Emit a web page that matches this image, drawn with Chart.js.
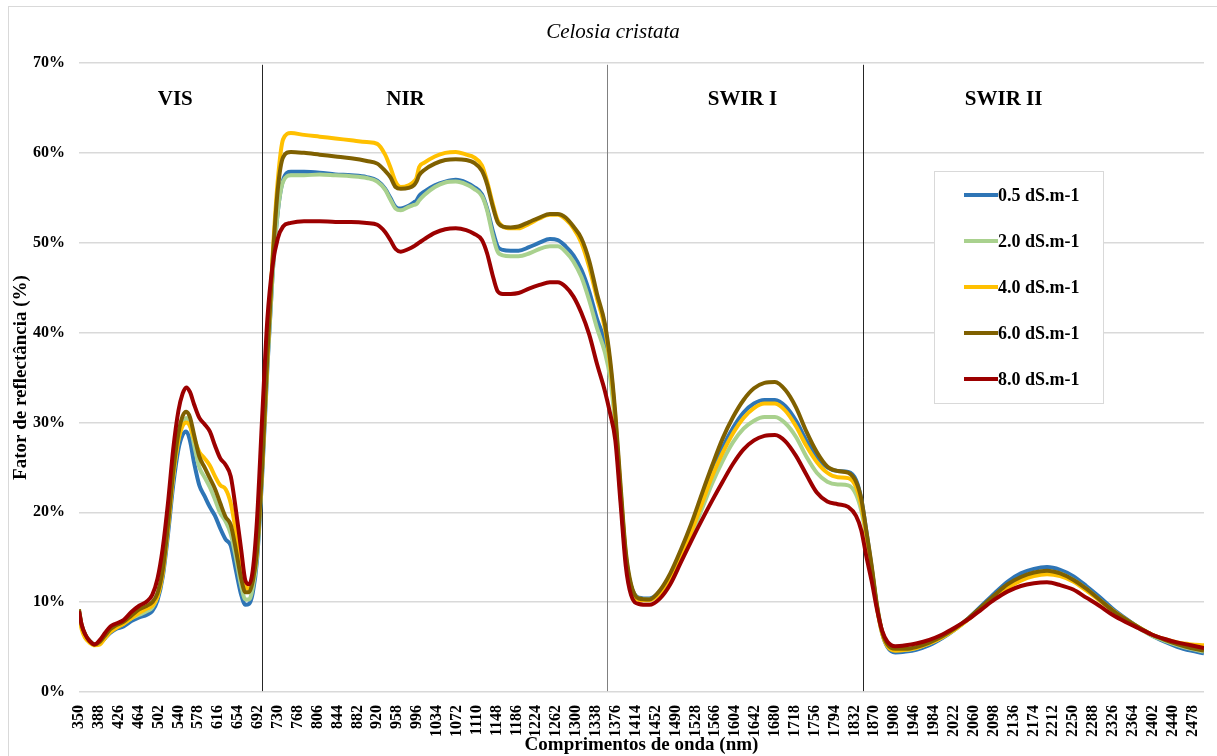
<!DOCTYPE html>
<html>
<head>
<meta charset="utf-8">
<script src="https://cdn.jsdelivr.net/npm/chart.js@4.4.1/dist/chart.umd.min.js"></script>
<style>
  body { margin: 0; background: #fff; }
  #wrap { width: 1217px; height: 756px; }
</style>
</head>
<body>
<div id="wrap"><canvas id="graficoReflectancia" width="1217" height="756"></canvas></div>
<script>
// --- DADOS ---
// comprimentos de onda amostrados (nm)
const wavelengths = [
  350, 355, 362, 370, 380, 390, 400, 410, 420, 435, 450, 465, 480, 490, 500, 510, 520, 530, 540, 548,
  555, 562, 570, 580, 590, 600, 610, 620, 630, 640, 650, 660, 668, 675, 682, 690, 700, 710, 720, 730,
  740, 755, 780, 810, 840, 870, 900, 920, 935, 945, 955, 965, 980, 990, 995, 1000, 1010, 1030, 1050, 1070,
  1090, 1105, 1120, 1130, 1140, 1150, 1160, 1175, 1190, 1210, 1230, 1250, 1265, 1280, 1295, 1310, 1325, 1340, 1355, 1365,
  1375, 1385, 1395, 1405, 1420, 1440, 1460, 1480, 1500, 1520, 1540, 1560, 1580, 1600, 1620, 1640, 1660, 1680, 1700, 1720,
  1740, 1760, 1780, 1800, 1820, 1835, 1845, 1855, 1865, 1875, 1885, 1895, 1910, 1930, 1950, 1975, 2000, 2025, 2050, 2075,
  2100, 2125, 2150, 2175, 2200, 2225, 2250, 2275, 2300, 2325, 2350, 2375, 2400, 2425, 2450, 2475, 2500
];

// fator de reflectância (%) por condutividade da água
const ce05 = [
  9.0, 7.3, 6.3, 5.7, 5.3, 5.4, 6.0, 6.6, 7.0, 7.3, 7.9, 8.3, 8.6, 9.0, 10.2, 12.8, 17.5, 23.0, 27.0, 28.6,
  29.0, 28.0, 25.5, 23.0, 21.8, 20.6, 19.6, 18.2, 17.0, 16.3, 13.5, 10.8, 9.7, 9.8, 11.0, 14.5, 24.0, 36.0, 46.5, 53.5,
  57.0, 57.9, 57.9, 57.8, 57.6, 57.5, 57.3, 56.9, 56.0, 55.0, 54.0, 53.8, 54.1, 54.5, 54.7, 55.2, 55.7, 56.4, 56.8, 57.0,
  56.7, 56.2, 55.4, 53.8, 51.5, 49.6, 49.2, 49.1, 49.1, 49.5, 50.0, 50.4, 50.3, 49.6, 48.6, 47.0, 44.6, 41.5, 39.0, 36.0,
  30.0, 22.0, 15.0, 11.8, 10.5, 10.4, 11.2, 13.0, 15.5, 18.3, 21.5, 24.5, 27.2, 29.4, 31.1, 32.1, 32.5, 32.5, 31.8, 30.2,
  28.0, 26.2, 25.0, 24.6, 24.5, 23.6, 21.5, 17.8, 13.8, 9.5, 6.5, 5.0, 4.4, 4.5, 4.7, 5.2, 6.0, 7.0, 8.2, 9.6,
  11.0, 12.3, 13.2, 13.7, 13.9, 13.6, 12.9, 11.8, 10.6, 9.3, 8.2, 7.2, 6.3, 5.6, 5.0, 4.6, 4.3
];
const ce20 = [
  9.0, 7.3, 6.3, 5.7, 5.3, 5.4, 6.1, 6.8, 7.2, 7.6, 8.2, 8.6, 9.0, 9.4, 10.6, 13.3, 18.3, 24.0, 28.2, 29.9,
  30.5, 29.8, 27.5, 25.0, 23.9, 22.8, 21.4, 19.9, 19.0, 17.6, 14.9, 11.8, 10.3, 10.3, 11.6, 15.0, 24.5, 36.5, 46.5, 53.5,
  56.8, 57.5, 57.5, 57.6, 57.5, 57.4, 57.2, 56.8, 55.9, 54.8, 53.8, 53.6, 54.0, 54.2, 54.3, 54.7, 55.3, 56.2, 56.7, 56.8,
  56.5, 56.0, 55.2, 53.6, 51.0, 49.0, 48.6, 48.5, 48.5, 48.8, 49.3, 49.6, 49.6, 49.0, 47.9, 46.2, 43.6, 40.5, 37.8, 35.0,
  29.5, 21.8, 15.0, 11.8, 10.4, 10.3, 11.1, 12.8, 15.0, 17.5, 20.3, 23.2, 25.7, 27.8, 29.3, 30.2, 30.6, 30.6, 29.9, 28.4,
  26.2, 24.4, 23.4, 23.1, 23.0, 22.0, 20.2, 17.2, 13.6, 9.5, 6.6, 5.2, 4.7, 4.7, 4.9, 5.4, 6.1, 7.0, 8.1, 9.4,
  10.7, 11.9, 12.7, 13.2, 13.4, 13.2, 12.5, 11.5, 10.3, 9.1, 8.0, 7.1, 6.3, 5.7, 5.2, 4.8, 4.5
];
const ce40 = [
  8.8, 7.0, 6.0, 5.5, 5.2, 5.3, 6.0, 6.7, 7.1, 7.6, 8.2, 8.8, 9.3, 9.6, 10.6, 13.2, 18.2, 24.0, 28.0, 29.6,
  30.0, 29.6, 28.2, 26.7, 26.0, 25.2, 24.0, 23.0, 22.6, 21.0, 17.8, 14.0, 11.8, 11.5, 12.5, 15.6, 25.0, 37.0, 48.5, 57.0,
  61.5, 62.2, 62.0, 61.8, 61.6, 61.4, 61.2, 61.0, 59.8, 58.4, 56.8, 56.2, 56.4, 56.8, 57.2, 58.4, 58.9, 59.6, 60.0, 60.1,
  59.8, 59.5, 58.6, 56.8, 54.5, 52.5, 51.8, 51.6, 51.6, 52.1, 52.7, 53.1, 53.1, 52.6, 51.6, 50.0, 47.3, 43.8, 40.5, 36.5,
  30.5, 22.5, 15.3, 11.6, 10.2, 10.2, 11.0, 12.8, 15.1, 17.8, 20.9, 24.0, 26.6, 28.8, 30.5, 31.6, 32.1, 32.1, 31.3, 29.6,
  27.4, 25.6, 24.4, 23.9, 23.8, 22.8, 20.8, 17.4, 13.6, 9.4, 6.5, 5.1, 4.6, 4.7, 4.9, 5.4, 6.1, 7.0, 8.1, 9.3,
  10.5, 11.6, 12.4, 12.9, 13.1, 12.9, 12.3, 11.3, 10.2, 9.1, 8.1, 7.2, 6.4, 5.9, 5.5, 5.3, 5.2
];
const ce60 = [
  9.2, 7.5, 6.4, 5.7, 5.3, 5.6, 6.3, 7.0, 7.4, 7.8, 8.5, 9.2, 9.6, 10.0, 11.0, 13.6, 18.6, 24.5, 28.8, 30.7,
  31.2, 30.6, 28.6, 26.2, 25.0, 23.8, 22.6, 21.0, 19.5, 18.6, 15.8, 12.6, 11.1, 11.1, 12.3, 15.6, 25.0, 37.5, 48.0, 56.0,
  59.5, 60.1, 60.0, 59.8, 59.6, 59.4, 59.1, 58.8, 58.0, 57.3, 56.2, 56.0, 56.1, 56.4, 56.8, 57.5, 58.1, 58.8, 59.2, 59.3,
  59.2, 58.9, 58.0, 56.5, 54.2, 52.3, 51.8, 51.7, 51.8, 52.3, 52.8, 53.2, 53.2, 52.8, 51.8, 50.5, 48.0, 44.3, 41.0, 37.0,
  31.0, 23.0, 15.6, 12.0, 10.4, 10.3, 11.3, 13.2, 15.8, 18.7, 22.0, 25.2, 28.2, 30.6, 32.5, 33.8, 34.4, 34.5, 33.6, 31.7,
  29.0, 26.7, 25.1, 24.6, 24.4, 23.4, 21.5, 17.8, 14.0, 9.7, 6.7, 5.3, 4.8, 4.8, 5.0, 5.5, 6.2, 7.1, 8.2, 9.5,
  10.8, 12.0, 12.8, 13.3, 13.5, 13.2, 12.5, 11.5, 10.3, 9.1, 8.1, 7.2, 6.4, 5.8, 5.3, 4.9, 4.6
];
const ce80 = [
  9.0, 7.5, 6.4, 5.7, 5.3, 5.8, 6.6, 7.3, 7.6, 8.0, 8.9, 9.6, 10.1, 10.8, 12.6, 16.0, 21.0, 27.0, 31.3, 33.2,
  33.9, 33.4, 32.0, 30.5, 29.8, 29.0, 27.4, 26.0, 25.3, 24.0, 20.2, 15.8, 12.4, 12.0, 13.5, 19.0, 30.5, 41.5, 47.5, 50.5,
  51.8, 52.2, 52.4, 52.4, 52.3, 52.3, 52.2, 52.0, 51.2, 50.3, 49.3, 49.0, 49.3, 49.6, 49.8, 50.0, 50.4, 51.1, 51.5, 51.6,
  51.4, 51.0, 50.3, 48.8, 46.5, 44.6, 44.3, 44.3, 44.4, 44.9, 45.3, 45.6, 45.6, 45.1, 44.0, 42.2, 39.8, 36.5, 33.5, 31.0,
  28.0, 21.0, 14.0, 10.8, 9.8, 9.7, 10.4, 12.0, 14.4, 16.8, 19.1, 21.3, 23.4, 25.4, 27.0, 28.0, 28.5, 28.6, 27.9, 26.3,
  24.2, 22.2, 21.2, 20.9, 20.6, 19.6, 18.0, 15.0, 12.3, 9.2, 6.8, 5.6, 5.1, 5.2, 5.4, 5.8, 6.4, 7.2, 8.1, 9.2,
  10.3, 11.2, 11.8, 12.1, 12.2, 11.9, 11.4, 10.5, 9.6, 8.6, 7.8, 7.1, 6.4, 5.9, 5.5, 5.2, 4.9
];

const seriesLabels = ["0.5 dS.m-1", "2.0 dS.m-1", "4.0 dS.m-1", "6.0 dS.m-1", "8.0 dS.m-1"];
const seriesColors = ["#2e75b6", "#a9d18e", "#ffc000", "#7f6000", "#9c0000"];
const seriesValues = [ce05, ce20, ce40, ce60, ce80];

// rótulos do eixo x (nm)
const xTickLabels = [
  350, 388, 426, 464, 502, 540, 578, 616, 654, 692, 730, 768, 806, 844, 882, 920, 958, 996, 1034, 1072,
  1110, 1148, 1186, 1224, 1262, 1300, 1338, 1376, 1414, 1452, 1490, 1528, 1566, 1604, 1642, 1680, 1718, 1756, 1794, 1832,
  1870, 1908, 1946, 1984, 2022, 2060, 2098, 2136, 2174, 2212, 2250, 2288, 2326, 2364, 2402, 2440, 2478
];

// faixas espectrais: limites (nm) e nomes
const regionBounds = [700, 1360, 1848];
const regionNames = ["VIS", "NIR", "SWIR I", "SWIR II"];
const regionCenters = [534, 974, 1618, 2117];

const TITULO = "Celosia cristata";
const FONTE = "'Liberation Serif', 'Times New Roman', serif";

// --- PLUGIN: título, separadores, nomes das faixas, legenda e moldura ---
const faixasPlugin = {
    id: "faixas",
    beforeDatasetsDraw(chart) {
        const { ctx, scales: { x, y } } = chart;
        const cores = ["#262626", "#808080", "#262626"];
        ctx.save();
        regionBounds.forEach((nm, i) => {
            const px = Math.round(x.getPixelForValue(nm)) + 0.5;
            ctx.strokeStyle = cores[i];
            ctx.lineWidth = 1;
            ctx.beginPath();
            ctx.moveTo(px, y.getPixelForValue(69.8));
            ctx.lineTo(px, y.getPixelForValue(0.1));
            ctx.stroke();
        });
        ctx.restore();
    },
    afterDraw(chart) {
        const { ctx, scales: { x, y } } = chart;
        ctx.save();

        // título centrado na moldura
        ctx.fillStyle = "#000";
        ctx.font = "italic 21px " + FONTE;
        ctx.textAlign = "center";
        ctx.textBaseline = "middle";
        ctx.fillText(TITULO, 613, 32);

        // nomes das faixas
        ctx.font = "bold 21px " + FONTE;
        regionNames.forEach((nome, i) => {
            ctx.fillText(nome, x.getPixelForValue(regionCenters[i]), y.getPixelForValue(65.9));
        });

        // legenda
        const lx = 934.5, ly = 171.5, lw = 169, lh = 232;
        ctx.fillStyle = "#fff";
        ctx.fillRect(lx, ly, lw, lh);
        ctx.strokeStyle = "#d9d9d9";
        ctx.lineWidth = 1;
        ctx.strokeRect(lx, ly, lw, lh);
        ctx.font = "bold 18px " + FONTE;
        ctx.textAlign = "left";
        seriesLabels.forEach((txt, i) => {
            const yy = 195 + i * 46;
            ctx.strokeStyle = seriesColors[i];
            ctx.lineWidth = 4;
            ctx.beginPath();
            ctx.moveTo(964, yy);
            ctx.lineTo(998, yy);
            ctx.stroke();
            ctx.fillStyle = "#000";
            ctx.fillText(txt, 998, yy + 1);
        });

        // moldura do gráfico
        ctx.strokeStyle = "#d9d9d9";
        ctx.lineWidth = 1;
        ctx.strokeRect(8.5, 6.5, 1400, 900);
        ctx.restore();
    }
};

// --- GRÁFICO ---
const ctxGrafico = document.getElementById("graficoReflectancia").getContext("2d");

const datasets = seriesValues.map((vals, i) => ({
    label: seriesLabels[i],
    data: wavelengths.map((nm, k) => ({ x: nm, y: vals[k] })),
    borderColor: seriesColors[i],
    backgroundColor: seriesColors[i],
    borderWidth: 4,
    pointRadius: 0,
    cubicInterpolationMode: "monotone",
    order: seriesValues.length - i // 8.0 dS.m-1 fica por cima
}));

new Chart(ctxGrafico, {
    type: "line",
    data: { datasets },
    options: {
        responsive: false,
        animation: false,
        layout: { padding: { left: 0, right: 13, top: 63, bottom: 0 } },
        plugins: {
            legend: { display: false },
            tooltip: { enabled: false },
            title: { display: false }
        },
        scales: {
            x: {
                type: "linear",
                min: 350,
                max: 2500,
                afterBuildTicks: scale => { scale.ticks = xTickLabels.map(v => ({ value: v })); },
                afterFit: scale => { scale.height = 64; },
                grid: { display: false },
                border: { display: false },
                ticks: {
                    autoSkip: false,
                    minRotation: 90,
                    maxRotation: 90,
                    padding: 5,
                    color: "#000",
                    font: { family: FONTE, size: 16, weight: "bold" },
                    callback: v => String(v)
                },
                title: {
                    display: true,
                    text: "Comprimentos de onda (nm)",
                    color: "#000",
                    font: { family: FONTE, size: 19, weight: "bold" },
                    padding: { top: 0, bottom: 0 }
                }
            },
            y: {
                min: 0,
                max: 70,
                afterFit: scale => { scale.width = 79; },
                grid: { color: "#d9d9d9", lineWidth: 1.5, drawTicks: false },
                border: { display: false },
                ticks: {
                    stepSize: 10,
                    padding: 14,
                    color: "#000",
                    font: { family: FONTE, size: 16, weight: "bold" },
                    callback: v => v + "%"
                },
                title: {
                    display: true,
                    text: "Fator de reflectância (%)",
                    color: "#000",
                    font: { family: FONTE, size: 19, weight: "bold" },
                    padding: { top: 10, bottom: 0 }
                }
            }
        }
    },
    plugins: [faixasPlugin]
});
</script>
</body>
</html>
